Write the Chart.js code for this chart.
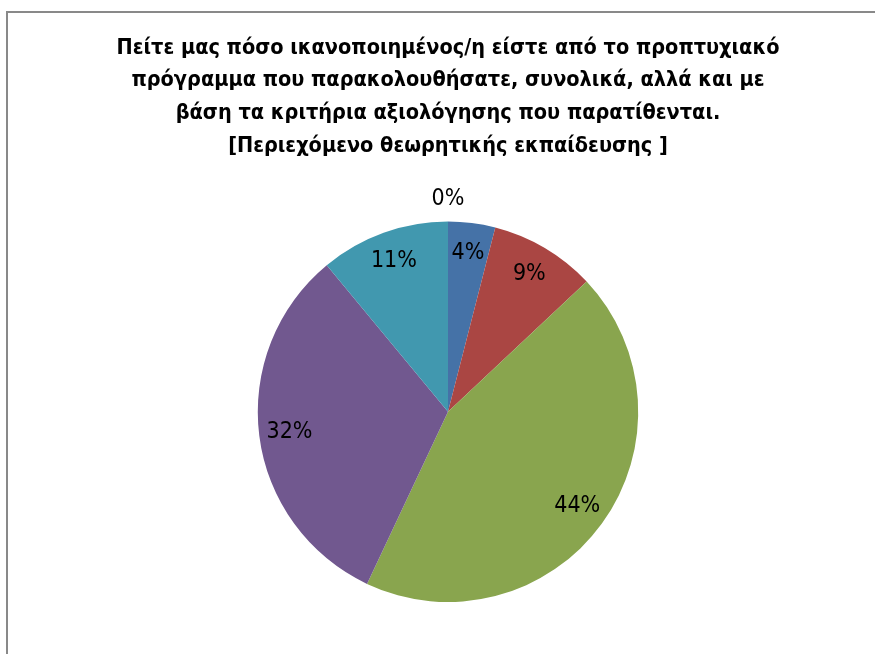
<!doctype html>
<html lang="el">
<head>
<meta charset="utf-8">
<title>Περιεχόμενο θεωρητικής εκπαίδευσης</title>
<script src="https://cdn.jsdelivr.net/npm/chart.js@4/dist/chart.umd.min.js"></script>
<style>
  body { margin: 0; background: #fff; }
  #wrap { width: 875px; height: 654px; }
</style>
</head>
<body>
<div id="wrap"><canvas id="pieChart" width="875" height="654"></canvas></div>
<script>
// τα δεδομένα
var categories = ["Πολύ λίγο", "Λίγο", "Αρκετά", "Πολύ", "Πάρα πολύ", "Καθόλου"];
var percents = [4, 9, 44, 32, 11, 0];
var sliceColors = ["#4572A7", "#AA4643", "#89A54E", "#71588F", "#4198AF", "#DB843D"];
var titleLines = [
  "Πείτε μας πόσο ικανοποιημένος/η είστε από το προπτυχιακό",
  "πρόγραμμα που παρακολουθήσατε, συνολικά, αλλά και με",
  "βάση τα κριτήρια αξιολόγησης που παρατίθενται.",
  "[Περιεχόμενο θεωρητικής εκπαίδευσης ]"
];

var fontFam = "'Liberation Sans Narrow', 'DejaVu Sans Condensed', 'Liberation Sans', sans-serif";

// γκρι πλαίσιο γύρω από το γράφημα
var framePlugin = {
  id: 'frame',
  beforeDraw: function(chart) {
    var ctx = chart.ctx;
    ctx.save();
    ctx.strokeStyle = '#898989';
    ctx.lineWidth = 2;
    ctx.strokeRect(7, 12, 900, 700);
    ctx.restore();
  }
};

// ετικέτες ποσοστών πάνω στις φέτες
var pctLabels = {
  id: 'pctLabels',
  afterDatasetsDraw: function(chart) {
    var ctx = chart.ctx;
    var meta = chart.getDatasetMeta(0);
    ctx.save();
    ctx.font = "23px " + fontFam;
    ctx.fillStyle = '#000';
    ctx.textAlign = 'center';
    ctx.textBaseline = 'middle';
    meta.data.forEach(function(arc, i) {
      var p = arc.getProps(['x', 'y', 'startAngle', 'endAngle', 'outerRadius'], true);
      var mid = (p.startAngle + p.endAngle) / 2;
      var k = percents[i] === 0 ? 1.12 : 0.84;
      var x = p.x + Math.cos(mid) * p.outerRadius * k;
      var y = p.y + Math.sin(mid) * p.outerRadius * k;
      ctx.fillText(percents[i] + '%', x, y);
    });
    ctx.restore();
  }
};

new Chart(document.getElementById('pieChart'), {
  type: 'pie',
  data: {
    labels: categories,
    datasets: [{
      data: percents,
      backgroundColor: sliceColors,
      borderWidth: 0
    }]
  },
  options: {
    responsive: false,
    animation: false,
    layout: { padding: { left: 21, right: 0, top: 10, bottom: 52 } },
    plugins: {
      legend: { display: false },
      tooltip: { enabled: false },
      title: {
        display: true,
        text: titleLines,
        color: '#000',
        font: { family: fontFam, size: 21.5, weight: 'bold', lineHeight: 1.53 },
        padding: { top: 21.5, bottom: 58.5 }
      }
    }
  },
  plugins: [framePlugin, pctLabels]
});
</script>
</body>
</html>
